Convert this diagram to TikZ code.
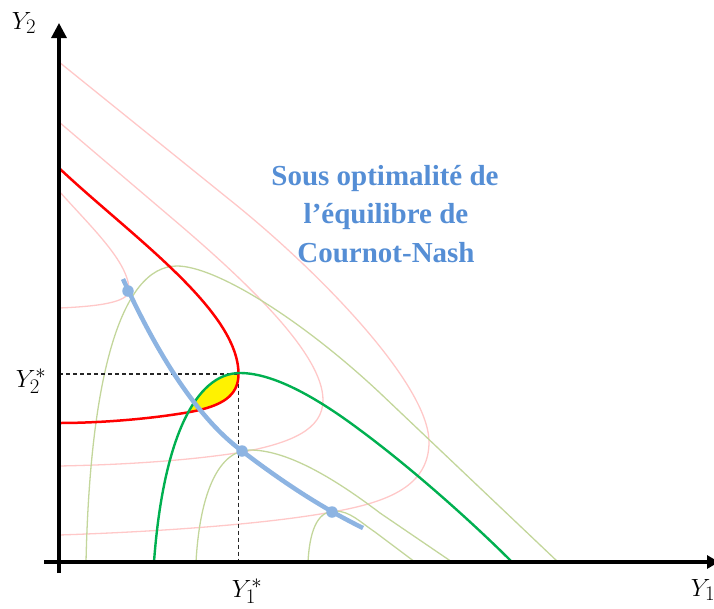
\documentclass[tikz,border=0pt]{standalone}
\usepackage{fontspec}
\newfontfamily\titlefont{Liberation Serif}
\usetikzlibrary{arrows.meta}
\definecolor{pinkc}{RGB}{255,200,200}
\definecolor{olivec}{RGB}{195,214,155}
\definecolor{greenc}{RGB}{0,176,80}
\definecolor{bluec}{RGB}{141,180,226}
\definecolor{titlec}{RGB}{85,142,213}
\begin{document}
\begin{tikzpicture}[x=1pt,y=-1pt,
  isopink/.style={pinkc,line width=1.3pt},
  isoolive/.style={olivec,line width=1.3pt},
  redcurve/.style={red,line width=2.5pt},
  greencurve/.style={greenc,line width=2.4pt},
  bluecurve/.style={bluec,line width=4.5pt},
  bdot/.style={circle,fill=bluec,inner sep=0pt,minimum size=11.5pt},
  guide/.style={black!85,line width=1.3pt,dash pattern=on 4pt off 3pt},
  axis/.style={black,line width=3.2pt},
  lab/.style={font=\fontsize{29}{32}\selectfont,inner sep=0pt},
  ttl/.style={font=\titlefont\bfseries\fontsize{29}{32}\selectfont,text=titlec,inner sep=0pt,anchor=base}]
\useasboundingbox (0,0) rectangle (714,608);
% pink curves
\draw[isopink] (59,62) -- (230,200) .. controls (320,272) and (429,385) .. (429,442)
   .. controls (429,485) and (390,502) .. (332,512) .. controls (260,525) and (150,532) .. (59,535);
\draw[isopink] (59,122) -- (180,225) .. controls (250,285) and (323,355) .. (323,400)
   .. controls (323,430) and (290,443) .. (243,452) .. controls (180,462) and (110,465) .. (59,466);
\draw[isopink] (59,191) .. controls (90,226) and (129,262) .. (129,290)
   .. controls (129,300) and (110,306) .. (59,308);
% olive curves
\draw[isoolive] (86,562) .. controls (90,380) and (120,266) .. (177,266)
   .. controls (215,266) and (300,318) .. (380,393) -- (558,562);
\draw[isoolive] (196,562) .. controls (200,490) and (220,450) .. (250,450)
   .. controls (285,450) and (330,475) .. (380,513) -- (452,562);
\draw[isoolive] (308,562) .. controls (310,525) and (320,511) .. (335,511)
   .. controls (350,511) and (360,522) .. (375,532) -- (415,562);
% yellow lens
\begin{scope}
\clip (154,562) .. controls (163,440) and (195,373) .. (240,373)
   .. controls (275,373) and (320,400) .. (360,430) .. controls (410,467) and (470,520) .. (512,562) -- cycle;
\fill[yellow] (59,168) .. controls (130,235) and (238.5,310) .. (238.5,374)
   .. controls (238.5,396) and (222,406) .. (190,412) .. controls (150,419) and (100,423) .. (59,423) -- cycle;
\end{scope}
% guides
\coordinate (E) at (238.5,374);
\coordinate (EY) at (59,374);
\coordinate (EX) at (238.5,562);
\draw[guide] (EY) -- (E) -- (EX);
% red and green curves
\draw[redcurve] (59,168) .. controls (130,235) and (238.5,310) .. (238.5,374)
   .. controls (238.5,396) and (222,406) .. (190,412) .. controls (150,419) and (100,423) .. (59,423);
\draw[greencurve] (154,562) .. controls (163,440) and (195,373) .. (240,373)
   .. controls (275,373) and (320,400) .. (360,430) .. controls (410,467) and (470,520) .. (512,562);
% blue curve
\draw[bluecurve] (123,279) .. controls (160,360) and (200,420) .. (242,451)
   .. controls (280,480) and (320,507) .. (363,528);
\node[bdot] (d1) at (128,291) {};
\node[bdot] (d2) at (242,451) {};
\node[bdot] (d3) at (332,512) {};
% axes
\coordinate (ybot) at (59,573);
\coordinate (ytop) at (59,23);
\coordinate (xl) at (44,562);
\coordinate (xr) at (719,562);
\draw[axis,-{Triangle[length=15pt,width=15pt]}] (ybot) -- (ytop);
\draw[axis,-{Triangle[length=12pt,width=13pt]}] (xl) -- (xr);
% labels
\node[lab] (ly2) at (24,23) {$Y_2$};
\node[lab] (ly1) at (703,590) {$Y_1$};
\node[lab] (ly2s) at (31,381) {$Y_2^*$};
\node[lab] (ly1s) at (247,591) {$Y_1^*$};
\node[ttl] (t1) at (385,185) {Sous optimalité de};
\node[ttl] (t2) at (386,223.5) {l’équilibre de};
\node[ttl] (t3) at (386,262) {Cournot-Nash};
\end{tikzpicture}
\end{document}
